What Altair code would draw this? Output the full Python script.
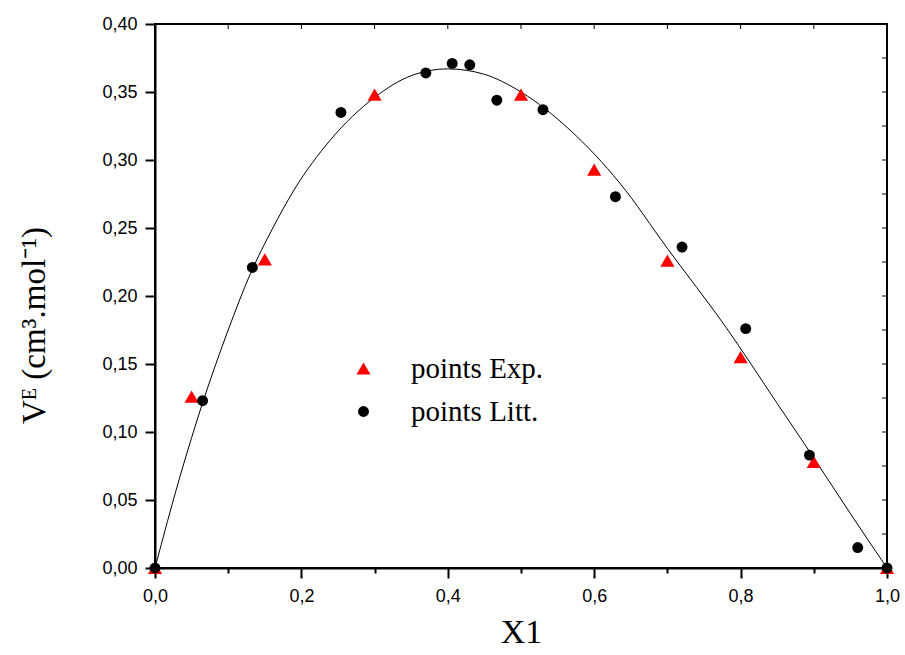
import altair as alt
import pandas as pd

# Experimental points (red triangles)
X_EXP = [0.0, 0.05, 0.15, 0.30, 0.50, 0.60, 0.70, 0.80, 0.90, 1.0]
V_EXP = [0.0, 0.126, 0.227, 0.348, 0.348, 0.293, 0.226, 0.155, 0.078, 0.0]

# Literature points (black circles)
X_LIT = [0.0, 0.065, 0.133, 0.254, 0.370, 0.406, 0.430, 0.467, 0.530, 0.629, 0.720, 0.807, 0.894, 0.960, 1.0]
V_LIT = [0.0, 0.123, 0.221, 0.335, 0.364, 0.371, 0.370, 0.344, 0.337, 0.273, 0.236, 0.176, 0.083, 0.015, 0.0]

# Fitted curve
X_FIT = [0.0, 0.034, 0.066, 0.10, 0.13, 0.16, 0.19, 0.24, 0.30, 0.35, 0.40, 0.45, 0.50,
         0.567, 0.635, 0.70, 0.78, 0.85, 0.895, 0.95, 1.0]
V_FIT = [0.0, 0.067, 0.123, 0.175, 0.216, 0.249, 0.278, 0.315, 0.346, 0.362, 0.367, 0.363, 0.350,
         0.322, 0.283, 0.235, 0.177, 0.121, 0.085, 0.040, 0.0]

SERIES = ["points Exp.", "points Litt."]
X_TICKS = [0.0, 0.1, 0.2, 0.3, 0.4, 0.5, 0.6, 0.7, 0.8, 0.9, 1.0]
Y_TICKS = [0.0, 0.025, 0.05, 0.075, 0.10, 0.125, 0.15, 0.175, 0.20, 0.225, 0.25,
           0.275, 0.30, 0.325, 0.35, 0.375, 0.40]

pts = pd.DataFrame({
    "x": X_EXP + X_LIT,
    "v": V_EXP + V_LIT,
    "series": [SERIES[0]] * len(X_EXP) + [SERIES[1]] * len(X_LIT),
})
fit = pd.DataFrame({"x": X_FIT, "v": V_FIT})
xt = pd.DataFrame({"x": X_TICKS})
yt = pd.DataFrame({"v": Y_TICKS})

W, H = 732, 544
xs = alt.Scale(domain=[0, 1], nice=False, zero=False)
ys = alt.Scale(domain=[0, 0.4], nice=False, zero=False)

xaxis = alt.Axis(
    values=X_TICKS,
    labelExpr="abs(datum.value*5 - round(datum.value*5)) < 0.001 ? replace(format(datum.value, '.1f'), '.', ',') : ''",
    tickSize={"condition": {"test": "abs(datum.value*5 - round(datum.value*5)) < 0.001", "value": 10}, "value": 5},
    labelPadding=9,
    labelFlush=False,
    labelOverlap=False,
    title="X1",
    titleFont="Liberation Serif",
    titleFontSize=34,
    titleFontWeight="normal",
    titlePadding=10,
)
yaxis = alt.Axis(
    values=Y_TICKS,
    labelExpr="abs(datum.value*20 - round(datum.value*20)) < 0.001 ? replace(format(datum.value, '.2f'), '.', ',') : ''",
    tickSize={"condition": {"test": "abs(datum.value*20 - round(datum.value*20)) < 0.001", "value": 10}, "value": 5},
    labelPadding=8,
    labelFlush=False,
    labelOverlap=False,
    title="Vᴱ  (cm³.mol⁻¹)",
    titleFont="Liberation Serif",
    titleFontSize=33,
    titleFontWeight="normal",
    titlePadding=50,
    titleY=301,
)

curve = alt.Chart(fit).mark_line(color="black", strokeWidth=1, interpolate="monotone").encode(
    x=alt.X("x:Q", scale=xs, axis=xaxis),
    y=alt.Y("v:Q", scale=ys, axis=yaxis),
)

leg = alt.Legend(
    orient="none", legendX=194, legendY=330, title=None,
    labelFont="Liberation Serif", labelFontSize=29, labelColor="black",
    labelOffset=33, rowPadding=13, padding=0, symbolSize=170,
    symbolStrokeWidth=0,
)

points = alt.Chart(pts).mark_point(filled=True, opacity=1).encode(
    x=alt.X("x:Q", scale=xs),
    y=alt.Y("v:Q", scale=ys),
    color=alt.Color("series:N", scale=alt.Scale(domain=SERIES, range=["#ff0000", "#000000"]), legend=leg),
    shape=alt.Shape("series:N", scale=alt.Scale(domain=SERIES, range=["triangle-up", "circle"]), legend=leg),
    size=alt.Size("series:N", scale=alt.Scale(domain=SERIES, range=[200, 120]), legend=None),
)

top_ticks = alt.Chart(xt).mark_rule(color="black", strokeWidth=1).encode(
    x=alt.X("x:Q", scale=xs), y=alt.value(0), y2=alt.value(5)
)
right_ticks = alt.Chart(yt).mark_rule(color="black", strokeWidth=1).encode(
    y=alt.Y("v:Q", scale=ys), x=alt.value(W - 5), x2=alt.value(W)
)

chart = alt.layer(curve, top_ticks, right_ticks, points).properties(
    width=W, height=H,
    padding={"left": 155, "top": 24, "right": 18, "bottom": 87},
    autosize=alt.AutoSizeParams(type="none"),
    background="white",
).configure_view(
    stroke="black", strokeWidth=2
).configure_axis(
    grid=False,
    labelFont="Liberation Sans", labelFontSize=18, labelColor="black",
    domainColor="black", domainWidth=2, tickColor="black", tickWidth=2,
    titleColor="black",
)

chart.save("out.html", embed_options={"renderer": "svg", "actions": False})
